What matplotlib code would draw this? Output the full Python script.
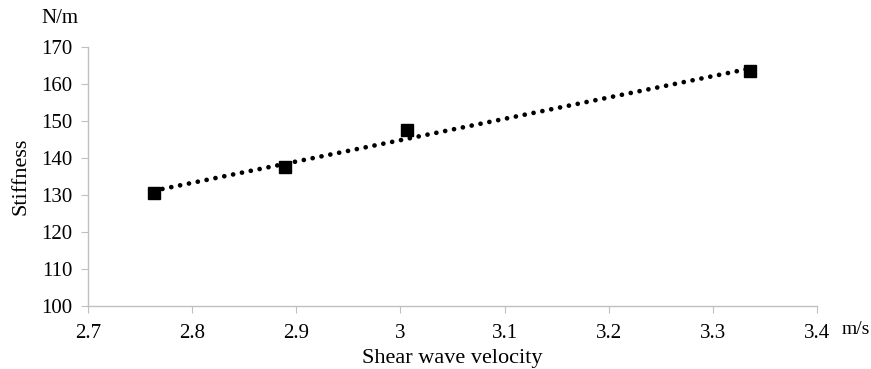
import numpy as np
import matplotlib.pyplot as plt

plt.rcParams["font.family"] = "Liberation Serif"

velocity = [2.763, 2.889, 3.006, 3.336]
stiffness = [130.5, 137.5, 147.4, 163.4]

fig = plt.figure(figsize=(8.71, 3.69), dpi=100)
ax = fig.add_axes([0.101, 0.171, 0.837, 0.702])

# linear trend line
k, b = np.polyfit(velocity, stiffness, 1)
xs = np.array([velocity[0], velocity[-1]])
ax.plot(xs, k * xs + b, color='black', linestyle=(0, (0.01, 1.9)),
        linewidth=3.4, dash_capstyle='round')
ax.plot(velocity, stiffness, 's', color='black', markersize=8.5)

ax.set_xlim(2.7, 3.4)
ax.set_ylim(100, 170)
ax.set_xticks(np.arange(2.7, 3.41, 0.1))
ax.set_xticklabels(["2.7", "2.8", "2.9", "3", "3.1", "3.2", "3.3", "3.4"])
ax.set_yticks(range(100, 171, 10))

for s in ['top', 'right']:
    ax.spines[s].set_visible(False)
for s in ['left', 'bottom']:
    ax.spines[s].set_color('#c0c0c0')
    ax.spines[s].set_linewidth(1)
ax.tick_params(colors='#c0c0c0', labelcolor='black', labelsize=15, length=5)
ax.tick_params(axis='x', pad=8)
ax.tick_params(axis='y', pad=6)

ax.set_ylabel("Stiffness", fontsize=16, labelpad=8)
ax.set_xlabel("Shear wave velocity", fontsize=16, labelpad=4)
fig.text(0.069, 0.95, "N/m", fontsize=15, ha='center', va='center')
fig.text(0.966, 0.106, "m/s", fontsize=14, ha='left', va='center')

fig.savefig("out.png", dpi=100)
